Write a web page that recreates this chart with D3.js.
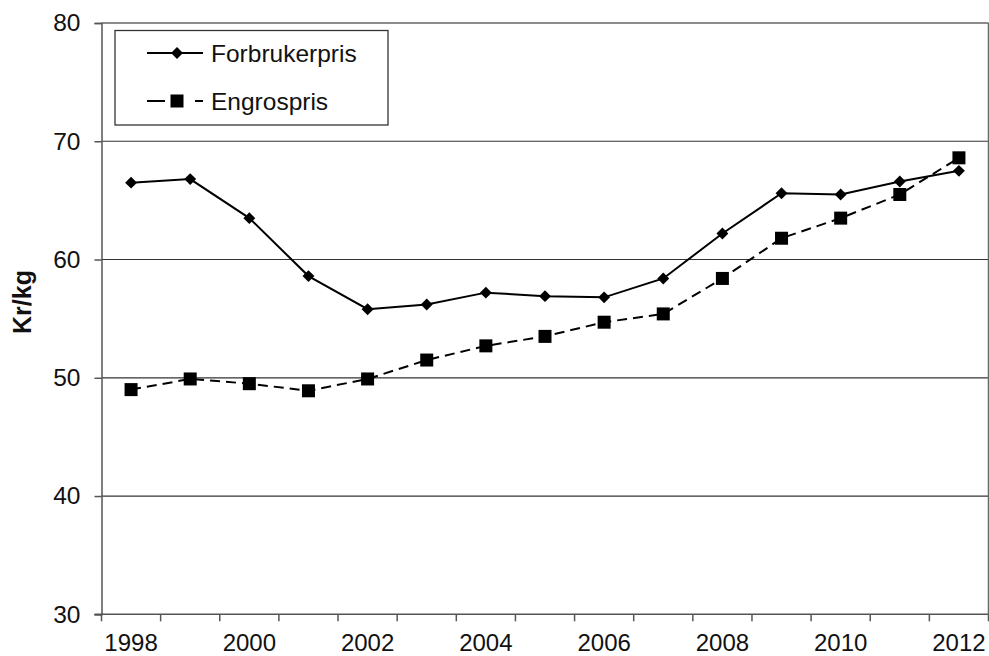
<!DOCTYPE html>
<html><head><meta charset="utf-8">
<script src="https://cdn.jsdelivr.net/npm/d3@7"></script>
<style>body{margin:0;background:#fff}svg{display:block}text{font-family:"Liberation Sans",Arial,sans-serif}</style>
</head><body><svg id="c" width="989" height="656"></svg>
<script>
const years = [1998,1999,2000,2001,2002,2003,2004,2005,2006,2007,2008,2009,2010,2011,2012];
const forbrukerpris = [66.5,66.8,63.5,58.6,55.8,56.2,57.2,56.9,56.8,58.4,62.2,65.6,65.5,66.6,67.5];
const engrospris = [49.0,49.9,49.5,48.9,49.9,51.5,52.7,53.5,54.7,55.4,58.4,61.8,63.5,65.5,68.6];
const yTicks = [30,40,50,60,70,80];
const xLabelYears = [1998,2000,2002,2004,2006,2008,2010,2012];
const seriesNames = ["Forbrukerpris","Engrospris"];

const svg = d3.select("#c");
const L=101.5, R=988.5, T=23, B=614.3;
const x = d3.scaleBand().domain(years).range([L,R]);
const y = d3.scaleLinear().domain([30,80]).range([B,T]);
const cx = d => x(d)+x.bandwidth()/2;

// gridlines
svg.append("g").selectAll("line").data(yTicks.filter(v=>v>30&&v<80)).join("line")
  .attr("x1",L).attr("x2",R).attr("y1",d=>y(d)).attr("y2",d=>y(d))
  .attr("stroke","#333").attr("stroke-width",1.2);
// top and right border
svg.append("line").attr("x1",L).attr("x2",R).attr("y1",T).attr("y2",T).attr("stroke","#666").attr("stroke-width",1.5);
svg.append("line").attr("x1",R).attr("x2",R).attr("y1",T).attr("y2",B).attr("stroke","#666").attr("stroke-width",1.5);

// y axis
const ya = svg.append("g").attr("transform",`translate(${L},0)`)
  .call(d3.axisLeft(y).tickValues(yTicks).tickSize(7).tickPadding(14));
ya.select(".domain").attr("stroke","#555").attr("stroke-width",1.5);
ya.selectAll(".tick line").attr("stroke","#555").attr("stroke-width",1.5);
ya.selectAll("text").attr("font-size",24.5).attr("fill","#111").attr("font-family","Liberation Sans, Arial, sans-serif");

// x axis: ticks at band boundaries
const xa = svg.append("g").attr("transform",`translate(0,${B})`);
xa.append("line").attr("x1",L-7).attr("x2",R).attr("stroke","#555").attr("stroke-width",1.5);
const bounds = years.map(d=>x(d)).concat([R]);
xa.selectAll("line.t").data(bounds).join("line").attr("class","t")
  .attr("x1",d=>d).attr("x2",d=>d).attr("y1",0).attr("y2",7).attr("stroke","#555").attr("stroke-width",1.5);
xa.selectAll("text").data(xLabelYears).join("text")
  .attr("x",d=>cx(d)).attr("y",36.5).attr("text-anchor","middle")
  .attr("font-size",24).attr("fill","#111").text(d=>d);

// y title
svg.append("text").attr("transform",`translate(31,302) rotate(-90)`)
  .attr("text-anchor","middle").attr("font-size",25).attr("font-weight","bold").attr("fill","#111").text("Kr/kg");

const line = d3.line().x((d,i)=>cx(years[i])).y(d=>y(d));
// Engrospris
svg.append("path").attr("d",line(engrospris)).attr("fill","none").attr("stroke","#000")
  .attr("stroke-width",2).attr("stroke-dasharray","10,6");
svg.append("g").selectAll("rect").data(engrospris).join("rect")
  .attr("x",(d,i)=>cx(years[i])-6.5).attr("y",d=>y(d)-6.5).attr("width",13).attr("height",13).attr("fill","#000");
// Forbrukerpris
svg.append("path").attr("d",line(forbrukerpris)).attr("fill","none").attr("stroke","#000").attr("stroke-width",2);
const diamond = d3.symbol().type(d3.symbolDiamond2).size(90);
svg.append("g").selectAll("path").data(forbrukerpris).join("path")
  .attr("d",diamond).attr("transform",(d,i)=>`translate(${cx(years[i])},${y(d)})`).attr("fill","#000");

// legend
const lg = svg.append("g");
lg.append("rect").attr("x",115).attr("y",30.5).attr("width",273).attr("height",94.5)
  .attr("fill","#fff").attr("stroke","#333").attr("stroke-width",1.3);
const rows=[53,101];
lg.append("line").attr("x1",147).attr("x2",203).attr("y1",rows[0]).attr("y2",rows[0]).attr("stroke","#000").attr("stroke-width",2);
lg.append("path").attr("d",diamond).attr("transform",`translate(177,${rows[0]})`).attr("fill","#000");
lg.append("line").attr("x1",147).attr("x2",203).attr("y1",rows[1]).attr("y2",rows[1]).attr("stroke","#000").attr("stroke-width",2).attr("stroke-dasharray","18,30,8,100");
lg.append("rect").attr("x",170.5).attr("y",rows[1]-6.5).attr("width",13).attr("height",13).attr("fill","#000");
lg.selectAll("text.l").data(seriesNames).join("text").attr("class","l")
  .attr("x",211).attr("y",(d,i)=>rows[i]+9).attr("font-size",24.5).attr("fill","#111").text(d=>d);
</script></body></html>
